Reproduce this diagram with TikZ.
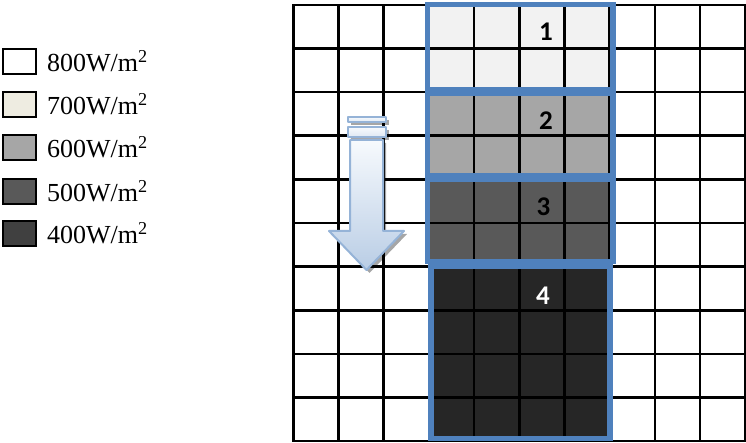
\documentclass[tikz,border=0pt]{standalone}
\usepackage{fontspec}
\setmainfont{Liberation Serif}
\newfontfamily\numfont{Carlito}
\definecolor{cfirst}{HTML}{F2F2F2}
\definecolor{csecond}{HTML}{A6A6A6}
\definecolor{cthird}{HTML}{595959}
\definecolor{cfourth}{HTML}{262626}
\definecolor{lgsev}{HTML}{EEECE1}
\definecolor{lgfour}{HTML}{404040}
\definecolor{zoneblue}{HTML}{4F81BD}
\definecolor{arrowedge}{HTML}{95B3D7}
\definecolor{arrowtop}{HTML}{F7FAFD}
\definecolor{arrowbot}{HTML}{B9CDE5}
\tikzset{
  gridline/.style={black, line width=2.6pt, line cap=rect},
  zonebox/.style={draw=zoneblue, line width=5.4pt},
  legendbox/.style={draw=black, line width=2.2pt, minimum width=33pt, minimum height=25pt, inner sep=0pt},
  legendtext/.style={anchor=base west, inner sep=0pt, font=\fontsize{26}{30}\selectfont},
  zonenum/.style={anchor=base, inner sep=0pt, font=\numfont\bfseries\fontsize{27}{30}\selectfont},
  arrowline/.style={draw=arrowedge, line width=2pt, line join=round},
  arrowshadow/.style={fill=black, opacity=0.35}
}
\begin{document}
\begin{tikzpicture}[x=1pt,y=-1pt]
\useasboundingbox (0,0) rectangle (746,443);
% zone fills
\fill[cfirst]  (428.9,5) rectangle (609.7,92.2);
\fill[csecond] (428.9,92.2) rectangle (609.7,179.4);
\fill[cthird]  (428.9,179.4) rectangle (609.7,266.6);
\fill[cfourth] (428.9,266.6) rectangle (609.7,441);
% grid
\foreach \i in {0,...,10} {
  \draw[gridline] ({293.3+45.2*\i},5) -- ({293.3+45.2*\i},441);
  \draw[gridline] (293.3,{5+43.6*\i}) -- (745.3,{5+43.6*\i});
}
% zone frames
\draw[zonebox] (427.5,4.5) rectangle (613,89.3);
\draw[zonebox] (427.5,93) rectangle (613,176);
\draw[zonebox] (427.5,179.8) rectangle (613,261.5);
\draw[zonebox] (431,266) rectangle (610,438.5);
% zone numbers
\node[zonenum] (n1) at (546,40.5) {1};
\node[zonenum] (n2) at (546,130) {2};
\node[zonenum] (n3) at (543.5,216) {3};
\node[zonenum, white] (n4) at (543,305) {4};
% arrow shadow
\begin{scope}[shift={(3,3)}]
  \fill[arrowshadow] (348,117) rectangle (386,122);
  \fill[arrowshadow] (348,127) rectangle (386,137);
  \fill[arrowshadow] (350,140) -- (383,140) -- (383,231) -- (404,231) -- (366.5,270) -- (329,231) -- (350,231) -- cycle;
\end{scope}
% arrow
\shade[top color=arrowtop, bottom color=arrowtop!60!arrowbot, arrowline] (348,117) rectangle (386,122);
\shade[top color=arrowtop, bottom color=arrowtop!60!arrowbot, arrowline] (348,127) rectangle (386,137);
\shade[top color=arrowtop, bottom color=arrowbot, arrowline] (350,140) -- (383,140) -- (383,231) -- (404,231) -- (366.5,270) -- (329,231) -- (350,231) -- cycle;
% legend
\node[legendbox, fill=white]    (l1) at (19.4,61.8) {};
\node[legendbox, fill=lgsev]    (l2) at (19.4,104.5) {};
\node[legendbox, fill=csecond]  (l3) at (19.4,147.8) {};
\node[legendbox, fill=cthird]   (l4) at (19.4,191.3) {};
\node[legendbox, fill=lgfour]   (l5) at (19.4,233.8) {};
\node[legendtext] (t1) at (47,71.8) {800W/m\textsuperscript{2}};
\node[legendtext] (t2) at (47,114.5) {700W/m\textsuperscript{2}};
\node[legendtext] (t3) at (47,157.8) {600W/m\textsuperscript{2}};
\node[legendtext] (t4) at (47,201.3) {500W/m\textsuperscript{2}};
\node[legendtext] (t5) at (47,243.8) {400W/m\textsuperscript{2}};
\end{tikzpicture}
\end{document}
